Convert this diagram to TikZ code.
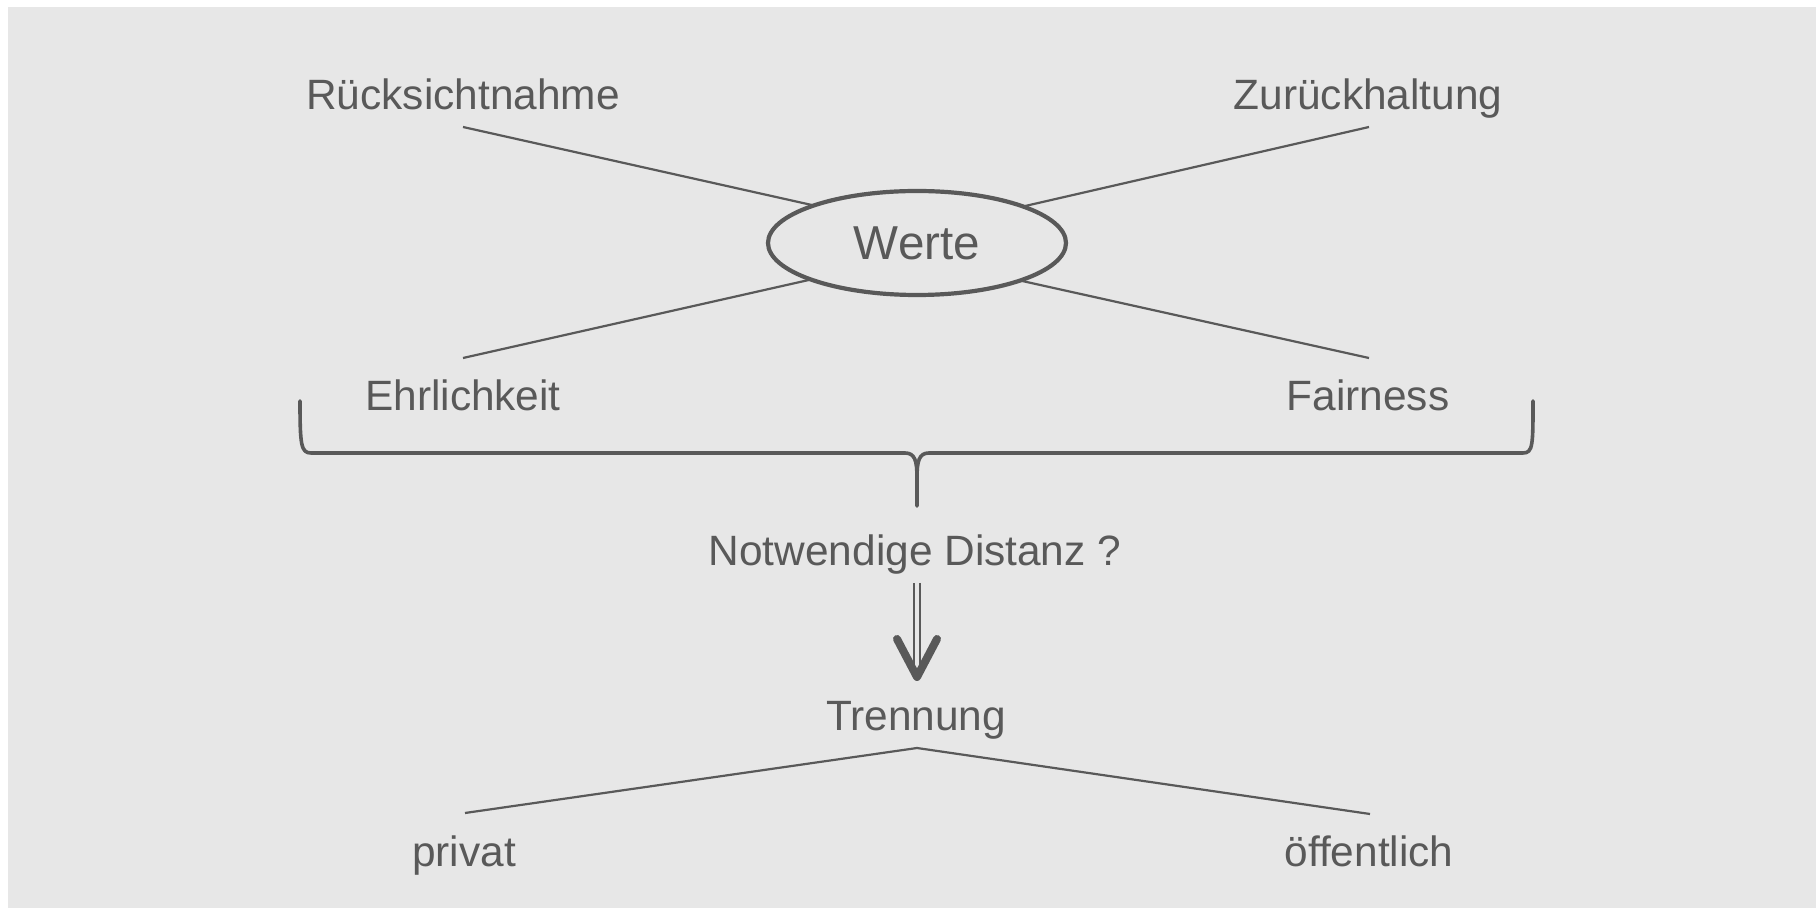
\documentclass[tikz,border=0pt]{standalone}
\usepackage{fontspec}
\setmainfont{Liberation Sans}
\usetikzlibrary{shapes.geometric,calc}
\definecolor{bgc}{RGB}{231,231,231}
\definecolor{ink}{RGB}{89,89,89}
\begin{document}
\begin{tikzpicture}[x=0.5pt,y=-0.5pt,
  lbl/.style={text=ink, anchor=base, inner sep=0pt, font=\fontsize{21.2}{25}\selectfont},
  conn/.style={draw=ink, line width=1.1pt},
  bracestyle/.style={draw=ink, line width=1.8pt, line cap=round, line join=round},
  dbl/.style={draw=ink, line width=1pt, double=bgc, double distance=1.85pt},
  vhead/.style={draw=ink, line width=4pt, line cap=round, line join=round},
  oval/.style={ellipse, draw=ink, line width=2.1pt, minimum width=149pt, minimum height=52pt,
    inner sep=0pt, outer sep=0pt, text=ink, font=\fontsize{23.8}{28}\selectfont}
]
\useasboundingbox (0,0) rectangle (1816,908);
\fill[bgc] (8,7) rectangle (1816,908);

% labels
\node[lbl] (r) at (463,110) {Rücksichtnahme};
\node[lbl] (z) at (1368,110) {Zurückhaltung};
\node[lbl] (e) at (463,411) {Ehrlichkeit};
\node[lbl] (f) at (1368,411) {Fairness};
\node[oval] (werte) at (917,243) {Werte};

% connectors to Werte
\coordinate (r1) at (463,127);
\coordinate (z1) at (1369,127);
\coordinate (e1) at (463,358);
\coordinate (f1) at (1369,358);
\draw[conn] (r1) -- (werte.160.3);
\draw[conn] (z1) -- (werte.19.7);
\draw[conn] (e1) -- (werte.199.7);
\draw[conn] (f1) -- (werte.340.3);

% brace
\draw[bracestyle] (300,401) .. controls (300,445) and (301,453) .. (311,453)
  -- (905,453) .. controls (915,453) and (917,461) .. (917,478) -- (917,506)
  -- (917,478) .. controls (917,461) and (919,453) .. (929,453)
  -- (1523,453) .. controls (1533,453) and (1533,445) .. (1533,401);

\node[lbl] (nd) at (915,566) {Notwendige Distanz ?};
\node[lbl] (tr) at (916,731) {Trennung};

% double arrow
\coordinate (da) at (917,583);
\coordinate (tip) at (917,677);
\draw[dbl] (da) -- ($(tip)+(0,-8)$);
\draw[vhead] ($(tip)+(-20,-38)$) -- (tip) -- ($(tip)+(20,-38)$);

% Trennung branches
\coordinate (ap) at (917,748);
\coordinate (p1) at (465,813);
\coordinate (o1) at (1370,814);
\draw[conn] (p1) -- (ap) -- (o1);
\node[lbl] (p) at (464,866) {privat};
\node[lbl] (o) at (1369,866) {öffentlich};
\end{tikzpicture}
\end{document}
